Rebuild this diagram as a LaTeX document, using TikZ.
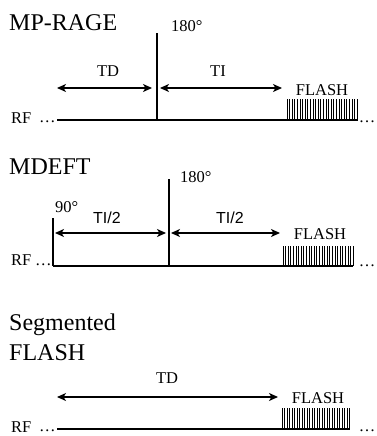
\documentclass[tikz,border=0pt]{standalone}
\usepackage{fontspec}
\setmainfont{Liberation Serif}
\newfontfamily\labelsans{Liberation Sans}
\usetikzlibrary{arrows.meta, positioning}

\begin{document}
\begin{tikzpicture}[x=1pt,y=-1pt,inner sep=0pt,
        seqtitle/.style={anchor=base west,font=\fontsize{24}{26}\selectfont},
        seqlabel/.style={anchor=base,font=\fontsize{16.5}{18}\selectfont},
        rflabel/.style={seqlabel,anchor=base west},
        taildots/.style={seqlabel,anchor=base east},
        rfline/.style={line width=1.3pt},
        readout/.style={line width=1pt},
        interval/.style={line width=1.3pt,
            {Stealth[length=9pt,width=8pt,inset=2.5pt]}-{Stealth[length=9pt,width=8pt,inset=2.5pt]}}]
    \useasboundingbox (0,0) rectangle (376,436);

    % MP-RAGE
    \node [seqtitle] (T1) at (9,31) {MP-RAGE};
    \node [rflabel] (RF1) at (11,123) {RF};
    \node [rflabel] (D1a) at (39,122) {\ldots};
    \node [taildots] (D1b) at (375.5,122) {\ldots};
    \coordinate (L1s) at (57,120);
    \coordinate (L1e) at (358,120);
    \draw [rfline] (L1s) -- (L1e);
    \coordinate (P1a) at (157,120);
    \coordinate (P1b) at (157,33);
    \draw [rfline] (P1a) -- (P1b);
    \node [rflabel] (A1) at (171,32) {180°};
    \coordinate (TD1l) at (57,88);
    \coordinate (TD1r) at (152,88);
    \coordinate (TI1l) at (160,88);
    \coordinate (TI1r) at (282,88);
    \draw [interval] (TD1l) -- (TD1r);
    \draw [interval] (TI1l) -- (TI1r);
    \node [seqlabel] (TD1) at (108,77) {TD};
    \node [seqlabel] (TI1) at (218,77) {TI};
    \node [seqlabel] (F1) at (322,95) {FLASH};
    \foreach \i in {0,...,27}
        \draw [readout] (287+\i*2.6,120) -- (287+\i*2.6,99);

    % MDEFT
    \node [seqtitle] (T2) at (9,174) {MDEFT};
    \node [rflabel] (RF2) at (11,265) {RF};
    \node [rflabel] (D2a) at (35,265) {\ldots};
    \node [taildots] (D2b) at (375.5,266) {\ldots};
    \coordinate (L2s) at (53,266);
    \coordinate (L2e) at (353,266);
    \draw [rfline] (L2s) -- (L2e);
    \coordinate (P2a) at (53,266);
    \coordinate (P2b) at (53,218);
    \draw [rfline] (P2a) -- (P2b);
    \node [rflabel] (A2a) at (55,212) {90°};
    \coordinate (P2c) at (169,266);
    \coordinate (P2d) at (169,179);
    \draw [rfline] (P2c) -- (P2d);
    \node [rflabel] (A2b) at (180,182) {180°};
    \coordinate (H2al) at (55,233);
    \coordinate (H2ar) at (166,233);
    \coordinate (H2bl) at (171,233);
    \coordinate (H2br) at (280,233);
    \draw [interval] (H2al) -- (H2ar);
    \draw [interval] (H2bl) -- (H2br);
    \node [seqlabel,font=\labelsans\fontsize{16}{18}\selectfont] (TI2a) at (107,223) {TI/2};
    \node [seqlabel,font=\labelsans\fontsize{16}{18}\selectfont] (TI2b) at (230,223) {TI/2};
    \node [seqlabel] (F2) at (320,239) {FLASH};
    \foreach \i in {0,...,27}
        \draw [readout] (283+\i*2.6,266) -- (283+\i*2.6,246);

    % Segmented FLASH
    \node [seqtitle] (T3a) at (9,330) {Segmented};
    \node [seqtitle] (T3b) at (9,360) {FLASH};
    \node [rflabel] (RF3) at (11,432) {RF};
    \node [rflabel] (D3a) at (39,431) {\ldots};
    \node [taildots] (D3b) at (375.5,431) {\ldots};
    \coordinate (L3s) at (57,429);
    \coordinate (L3e) at (350,429);
    \draw [rfline] (L3s) -- (L3e);
    \coordinate (TD3l) at (57,397);
    \coordinate (TD3r) at (278,397);
    \draw [interval] (TD3l) -- (TD3r);
    \node [seqlabel] (TD3) at (167,383) {TD};
    \node [seqlabel] (F3) at (318,403) {FLASH};
    \foreach \i in {0,...,27}
        \draw [readout] (282+\i*2.5,429) -- (282+\i*2.5,408);
\end{tikzpicture}
\end{document}
